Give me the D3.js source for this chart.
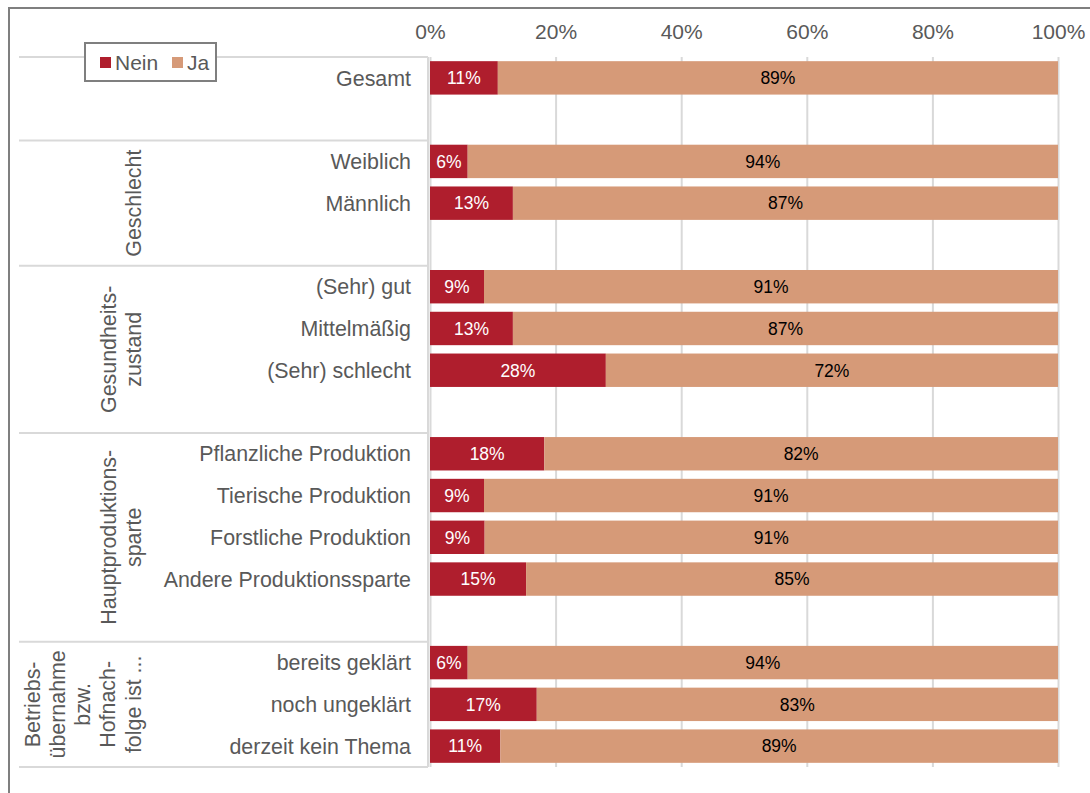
<!DOCTYPE html>
<html><head><meta charset="utf-8">
<script src="https://cdn.jsdelivr.net/npm/d3@7"></script>
<style>
html,body{margin:0;padding:0;background:#fff;}
svg{display:block;font-family:"Liberation Sans",Arial,sans-serif;}
</style></head>
<body>
<svg id="chart" width="1090" height="793"></svg>
<script>
// ---- data ----
const categories = ["Gesamt","","Weiblich","Männlich","","(Sehr) gut","Mittelmäßig","(Sehr) schlecht","",
  "Pflanzliche Produktion","Tierische Produktion","Forstliche Produktion","Andere Produktionssparte","",
  "bereits geklärt","noch ungeklärt","derzeit kein Thema"];
const nein = [10.8,null,6.0,13.2,null,8.6,13.2,28.0,null,18.2,8.6,8.7,15.3,null,6.0,17.0,11.2];
const ja   = [89.2,null,94.0,86.8,null,91.4,86.8,72.0,null,81.8,91.4,91.3,84.7,null,94.0,83.0,88.8];
const seriesNames = ["Nein","Ja"];
const tickValues = [0,20,40,60,80,100];
const groupLabels = [["Geschlecht"],["Gesundheits-","zustand"],["Hauptproduktions-","sparte"],
  ["Betriebs-","übernahme","bzw.","Hofnach-","folge ist ..."]];
const groupRows = [[2,4],[5,8],[9,13],[14,16]];
const separatorRows = [0,2,5,9,14];

// ---- styles ----
const colors = {Nein:"#AF1E2D", Ja:"#D69A78"};
const textGray = "#595959", gridGray = "#D9D9D9";

const svg = d3.select("#chart");
const x = d3.scaleLinear().domain([0,100]).range([430,1058]);
const y = d3.scaleBand().domain(d3.range(categories.length)).range([57,767]).paddingInner(0.2).paddingOuter(0.1);
const step = y.step();
const rowTop = i => 57 + i*step;

// outer frame (left + top)
svg.append("path").attr("d","M9,793 V8 H1090").attr("fill","none").attr("stroke","#7F7F7F").attr("stroke-width",2);

// gridlines
const grid = svg.append("g").attr("transform","translate(0,767)")
  .call(d3.axisBottom(x).tickValues(tickValues).tickSize(-(767-57)).tickFormat(""));
grid.select(".domain").remove();
grid.selectAll("line").attr("stroke",gridGray).attr("stroke-width",2);

// top axis labels
const ax = svg.append("g").attr("transform","translate(0,39)")
  .call(d3.axisTop(x).tickValues(tickValues).tickSize(0).tickPadding(0).tickFormat(d=>d+"%"));
ax.select(".domain").remove();
ax.selectAll("text").attr("fill",textGray).attr("font-size",21).attr("font-family","Liberation Sans, Arial, sans-serif").attr("dy",0);

// category axis line & separators
svg.append("line").attr("x1",428).attr("x2",428).attr("y1",57).attr("y2",767).attr("stroke",gridGray).attr("stroke-width",2);
svg.selectAll(".sep").data(separatorRows.concat([categories.length])).enter().append("line")
  .attr("x1",19).attr("x2",428).attr("y1",d=>rowTop(d)).attr("y2",d=>rowTop(d))
  .attr("stroke",gridGray).attr("stroke-width",2);

// bars
const rows = categories.map((c,i)=>({i,c,nein:nein[i],ja:ja[i]})).filter(d=>d.nein!=null);
const g = svg.append("g");
g.selectAll(".bn").data(rows).enter().append("rect")
  .attr("x",x(0)).attr("y",d=>y(d.i)).attr("width",d=>x(d.nein)-x(0)).attr("height",y.bandwidth())
  .attr("fill",colors.Nein);
g.selectAll(".bj").data(rows).enter().append("rect")
  .attr("x",d=>x(d.nein)).attr("y",d=>y(d.i)).attr("width",d=>x(d.nein+d.ja)-x(d.nein)).attr("height",y.bandwidth())
  .attr("fill",colors.Ja);
g.selectAll(".ln").data(rows).enter().append("text")
  .attr("x",d=>(x(0)+x(d.nein))/2).attr("y",d=>y(d.i)+y.bandwidth()/2).attr("dy","0.36em")
  .attr("text-anchor","middle").attr("font-size",17.5).attr("fill","#fff").text(d=>Math.round(d.nein)+"%");
g.selectAll(".lj").data(rows).enter().append("text")
  .attr("x",d=>(x(d.nein)+x(d.nein+d.ja))/2).attr("y",d=>y(d.i)+y.bandwidth()/2).attr("dy","0.36em")
  .attr("text-anchor","middle").attr("font-size",17.5).attr("fill","#000").text(d=>Math.round(d.ja)+"%");

// category labels
svg.selectAll(".cat").data(categories.map((c,i)=>({c,i})).filter(d=>d.c)).enter().append("text")
  .attr("x",411).attr("y",d=>y(d.i)+y.bandwidth()/2).attr("dy","0.36em")
  .attr("text-anchor","end").attr("font-size",21.4).attr("fill",textGray).text(d=>d.c);

// group labels (rotated)
groupLabels.forEach((lines,k)=>{
  const [a,b] = groupRows[k];
  const cy = (rowTop(a)+rowTop(b+1))/2;
  const lh = 25.2;
  const x0 = 133 - (lines.length-1)*lh;
  const t = svg.append("text").attr("transform",`translate(${x0},${cy}) rotate(-90)`)
    .attr("text-anchor","middle").attr("font-size",21.4).attr("fill",textGray);
  lines.forEach((l,j)=>t.append("tspan").attr("x",0).attr("y",j*lh).attr("dy","0.36em").text(l));
});

// legend
const lg = svg.append("g");
lg.append("rect").attr("x",85).attr("y",43).attr("width",131).attr("height",38).attr("fill","#fff")
  .attr("stroke","#7F7F7F").attr("stroke-width",2);
const legX = [100,172];
seriesNames.forEach((s,k)=>{
  lg.append("rect").attr("x",legX[k]).attr("y",57).attr("width",11).attr("height",11).attr("fill",colors[s]);
  lg.append("text").attr("x",legX[k]+15).attr("y",62).attr("dy","0.36em").attr("font-size",21)
    .attr("fill",textGray).text(s);
});
</script>
</body></html>
